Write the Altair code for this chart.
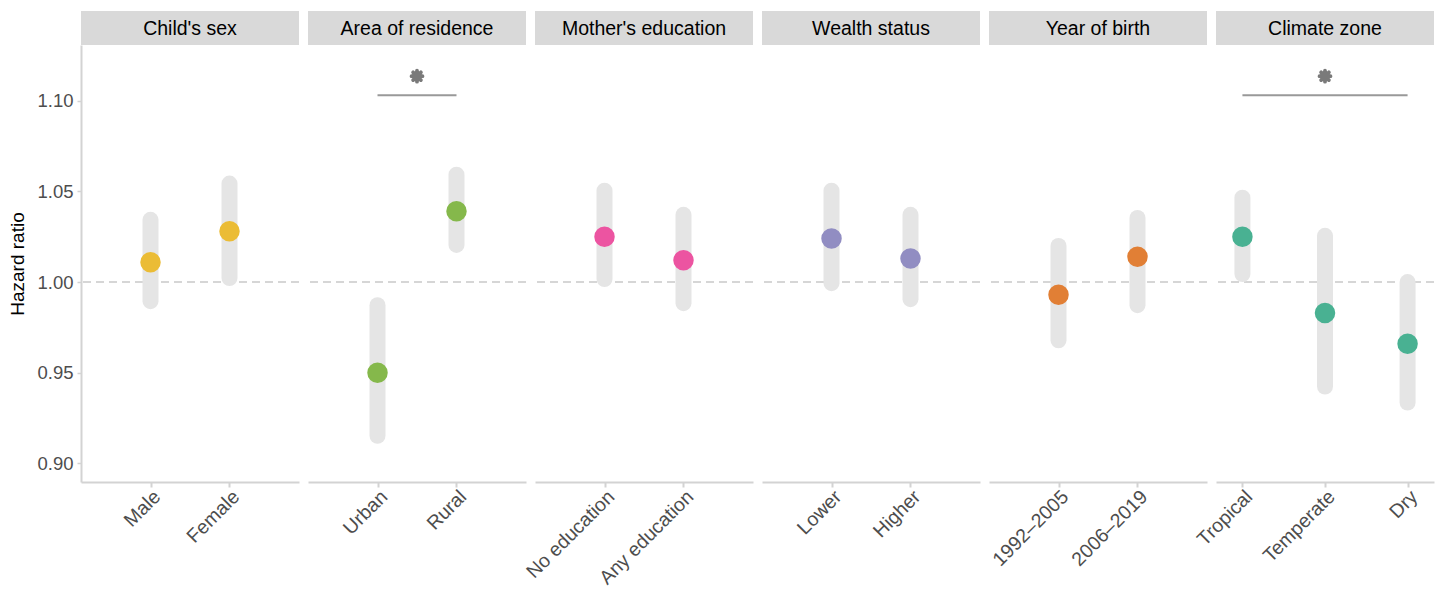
import altair as alt
import pandas as pd

# ---------------- data ----------------
groups = ["Child's sex", "Area of residence", "Mother's education",
          "Wealth status", "Year of birth", "Climate zone"]
group_of = ["Child's sex", "Child's sex",
            "Area of residence", "Area of residence",
            "Mother's education", "Mother's education",
            "Wealth status", "Wealth status",
            "Year of birth", "Year of birth",
            "Climate zone", "Climate zone", "Climate zone"]
categories = ["Male", "Female",
              "Urban", "Rural",
              "No education", "Any education",
              "Lower", "Higher",
              "1992\u20132005", "2006\u20132019",
              "Tropical", "Temperate", "Dry"]
hr = [1.011, 1.028, 0.950, 1.039, 1.025, 1.012, 1.024, 1.013,
      0.993, 1.014, 1.025, 0.983, 0.966]
lower = [0.9895, 1.0022, 0.9153, 1.0205, 1.0017, 0.9884, 0.9994, 0.9906,
         0.9679, 0.9873, 1.0044, 0.9424, 0.9336]
upper = [1.0343, 1.0543, 0.9873, 1.0592, 1.0504, 1.0371, 1.0504, 1.0371,
         1.0199, 1.0354, 1.0465, 1.0255, 1.0000]
group_colors = ["#EBBC35", "#85B84B", "#EC54A1", "#918DC2", "#E17F35", "#49B192"]

sig_group = ["Area of residence", "Climate zone"]
sig_from = ["Urban", "Tropical"]
sig_to = ["Rural", "Dry"]
sig_line_y = [1.1030, 1.1030]
sig_star_y = [1.1135, 1.1135]

y_ticks = [0.90, 0.95, 1.00, 1.05, 1.10]

# ---------------- styling ----------------
FONT = "Liberation Sans"
W, H = 218, 437
YDOM = [0.8898, 1.1307]
AXIS_GREY = "#D3D3D3"
TEXT_GREY = "#4D4D4D"
# eight-spoke asterisk symbol (unit coordinates)
ASTERISK = ("M-1,0L1,0M0,-1L0,1M-0.707,-0.707L0.707,0.707"
            "M-0.707,0.707L0.707,-0.707")

df = pd.DataFrame(dict(group=group_of, cat=categories, hr=hr, lo=lower, hi=upper))
sig = pd.DataFrame(dict(group=sig_group, x1=sig_from, x2=sig_to,
                        yl=sig_line_y, ys=sig_star_y))

panels = []
for i, g in enumerate(groups):
    d = df[df.group == g]
    cats = list(d.cat)
    pad = 0.88 if len(cats) == 2 else 0.32
    xs = alt.Scale(type="point", domain=cats, padding=pad)
    ys = alt.Scale(domain=YDOM, nice=False, zero=False)
    xaxis = alt.Axis(title=None, labelAngle=-45, labelAlign="right", labelBaseline="top",
                     labelFontSize=19.5, labelColor=TEXT_GREY, labelFont=FONT,
                     labelPadding=0, labelOverlap=False,
                     domainColor=AXIS_GREY, domainWidth=2,
                     tickColor=AXIS_GREY, tickWidth=2, tickSize=5)
    if i == 0:
        yaxis = alt.Axis(values=y_ticks, format=".2f", title="Hazard ratio",
                         titleFont=FONT, titleFontSize=19, titleFontWeight="normal",
                         titleColor="black", titlePadding=9,
                         labelFont=FONT, labelFontSize=18.5, labelColor=TEXT_GREY,
                         labelPadding=4, domainColor=AXIS_GREY, domainWidth=2,
                         tickColor=AXIS_GREY, tickWidth=1.5, tickSize=4, grid=False)
    else:
        yaxis = None

    X = alt.X("cat:N", scale=xs, sort=cats, axis=xaxis)

    hdr = pd.DataFrame({"g": [g]})
    header_bg = alt.Chart(hdr).mark_rect(color="#D9D9D9").encode(
        x=alt.value(0), x2=alt.value(W), y=alt.value(-34), y2=alt.value(0))
    header_txt = alt.Chart(hdr).mark_text(font=FONT, fontSize=19.5, color="black",
                                          baseline="middle", align="center").encode(
        x=alt.value(W / 2), y=alt.value(-16.5), text="g:N")
    ref = alt.Chart(pd.DataFrame({"v": [1.0]})).mark_rule(
        color="#D6D6D6", strokeDash=[8, 5], strokeWidth=2).encode(
        y=alt.Y("v:Q", scale=ys, axis=yaxis))
    ci = alt.Chart(d).mark_rule(strokeWidth=16, strokeCap="round", color="#E5E5E5").encode(
        x=X, y=alt.Y("lo:Q", scale=ys, axis=yaxis), y2="hi:Q")
    pts = alt.Chart(d).mark_circle(size=420, opacity=1, color=group_colors[i]).encode(
        x=X, y=alt.Y("hr:Q", scale=ys, axis=yaxis))
    layers = [header_bg, header_txt, ref, ci, pts]

    s = sig[sig.group == g]
    if len(s):
        line = alt.Chart(s).mark_rule(color="#999999", strokeWidth=1.8).encode(
            x=alt.X("x1:N", scale=xs, axis=xaxis), x2="x2:N",
            y=alt.Y("yl:Q", scale=ys, axis=yaxis))
        layers.append(line)
        star_style = dict(shape=ASTERISK, size=120, filled=False, stroke="#7A7A7A",
                          strokeWidth=3.8, strokeCap="round", opacity=1)
        if len(cats) == 3:
            s2 = s.assign(mid=cats[1])
            star = alt.Chart(s2).mark_point(**star_style).encode(
                x=alt.X("mid:N", scale=xs, axis=xaxis),
                y=alt.Y("ys:Q", scale=ys, axis=yaxis))
        else:
            star = alt.Chart(s).mark_point(**star_style).encode(
                x=alt.value(W / 2),
                y=alt.Y("ys:Q", scale=ys, axis=yaxis))
        layers.append(star)

    panels.append(alt.layer(*layers).properties(width=W, height=H))

chart = alt.hconcat(*panels, spacing=9, bounds="flush").resolve_scale(
    x="independent", y="independent").properties(
    padding={"left": 8, "top": 11, "right": 0, "bottom": 0},
    background="white"
).configure_view(stroke=None).configure_axis(grid=False)

chart.save("out.html", embed_options={"renderer": "svg", "actions": False})
